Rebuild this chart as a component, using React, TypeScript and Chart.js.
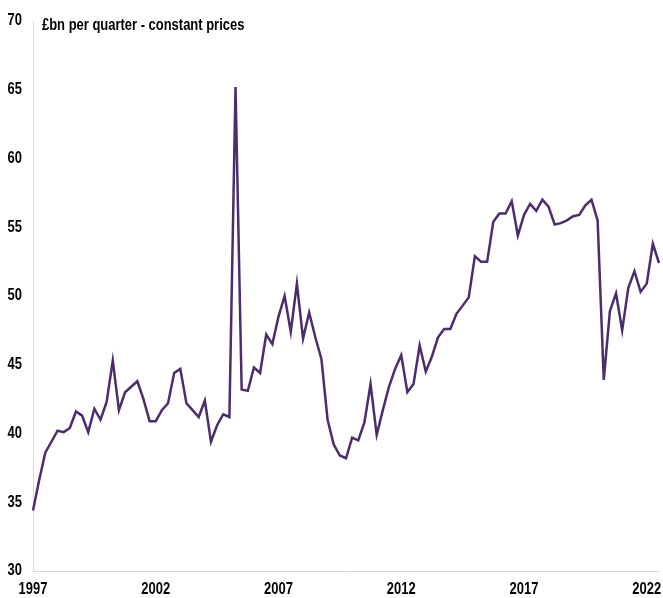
import React, { useEffect, useRef } from "react";
import { Chart, registerables } from "chart.js";

Chart.register(...registerables);

const FONT = '"Liberation Sans", Arial, sans-serif';
const CONDENSE = 0.81;

const startYear = 1997;
const quarterNames = ["Q1", "Q2", "Q3", "Q4"];

const values: number[] = [
  34.4, 36.6, 38.6, 39.4, 40.2, 40.1, 40.4, 41.6, 41.3, 40.1,
  41.8, 41.0, 42.3, 45.3, 41.7, 43.0, 43.4, 43.8, 42.5, 40.9,
  40.9, 41.7, 42.2, 44.4, 44.7, 42.2, 41.7, 41.2, 42.4, 39.4,
  40.6, 41.4, 41.2, 65.2, 43.2, 43.1, 44.8, 44.4, 47.2, 46.5,
  48.5, 50.0, 47.4, 50.9, 46.9, 48.8, 47.0, 45.4, 41.0, 39.2,
  38.4, 38.2, 39.7, 39.5, 40.8, 43.6, 39.9, 41.7, 43.4, 44.7,
  45.7, 43.0, 43.6, 46.4, 44.5, 45.6, 47.0, 47.6, 47.6, 48.7,
  49.3, 49.9, 52.9, 52.5, 52.5, 55.4, 56.0, 56.0, 56.9, 54.4,
  55.9, 56.7, 56.2, 57.0, 56.5, 55.2, 55.3, 55.5, 55.8, 55.9,
  56.6, 57.0, 55.5, 43.9, 48.9, 50.2, 47.5, 50.6, 51.8, 50.3,
  50.9, 53.8, 52.4,
];

const categories: string[] = values.map(
  (_, i) => `${startYear + Math.floor(i / 4)} ${quarterNames[i % 4]}`
);

const tickYears: string[] = ["1997", "2002", "2007", "2012", "2017", "2022"];
const yTicks: number[] = [30, 35, 40, 45, 50, 55, 60, 65, 70];
const yMin = 30;
const yMax = 70;
const titleText = "£bn per quarter - constant prices";

function drawCondensed(ctx: any, text: string, x: number, y: number, align: string) {
  ctx.save();
  ctx.translate(x, y);
  ctx.scale(CONDENSE, 1);
  ctx.textAlign = align;
  ctx.fillText(text, 0, 0);
  ctx.restore();
}

const labelsPlugin = {
  id: "condensedLabels",
  afterDraw(chart: any) {
    const { ctx, chartArea, scales } = chart;
    ctx.save();
    ctx.fillStyle = "#000000";
    ctx.textBaseline = "middle";
    ctx.font = `bold 16px ${FONT}`;
    // title inside the plot area
    drawCondensed(ctx, titleText, chartArea.left + 9, chartArea.top + 5, "left");
    // y tick labels
    yTicks.forEach((t) => {
      const py = scales.y.getPixelForValue(t);
      drawCondensed(ctx, String(t), chartArea.left - 11, py, "right");
    });
    // x tick labels
    tickYears.forEach((yr) => {
      const idx = categories.indexOf(`${yr} Q1`);
      if (idx < 0) return;
      const px = scales.x.getPixelForValue(idx);
      drawCondensed(ctx, yr, px, chartArea.bottom + 19, "center");
    });
    ctx.restore();
  },
};

export default function App() {
  const canvasRef = useRef<HTMLCanvasElement | null>(null);

  useEffect(() => {
    document.body.style.margin = "0";
    const canvas = canvasRef.current;
    if (!canvas) return;
    const chart = new Chart(canvas, {
      type: "line",
      data: {
        labels: categories,
        datasets: [
          {
            data: values,
            borderColor: "#4b2c6f",
            borderWidth: 2.5,
            pointRadius: 0,
            tension: 0,
            fill: false,
          },
        ],
      },
      options: {
        responsive: false,
        animation: false,
        devicePixelRatio: 1,
        layout: { padding: { top: 21, right: 4, left: 0, bottom: 0 } },
        plugins: {
          legend: { display: false },
          tooltip: { enabled: false },
          title: { display: false },
        },
        scales: {
          x: {
            type: "category",
            offset: false,
            grid: { display: false, drawTicks: false },
            border: { display: true, color: "#d9d9d9", width: 1 },
            ticks: { display: false },
            afterFit(scale: any) {
              scale.height = 27;
            },
          },
          y: {
            min: yMin,
            max: yMax,
            grid: { display: false, drawTicks: false },
            border: { display: true, color: "#d9d9d9", width: 1 },
            ticks: { display: false, stepSize: 5 },
            afterFit(scale: any) {
              scale.width = 33;
            },
          },
        },
      },
      plugins: [labelsPlugin],
    });
    return () => chart.destroy();
  }, []);

  return (
    <div style={{ position: "absolute", left: 0, top: 0, width: 663, height: 598 }}>
      <canvas ref={canvasRef} width={663} height={598} />
    </div>
  );
}
